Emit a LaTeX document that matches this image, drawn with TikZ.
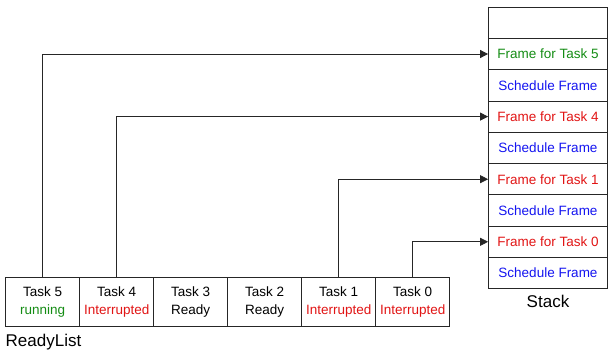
\documentclass[tikz,border=0pt]{standalone}
\usepackage{fontspec}
\setmainfont{Liberation Sans}
\usepackage{tikz}
\usetikzlibrary{arrows.meta, positioning}
\definecolor{rungreen}{RGB}{20,140,20}
\definecolor{intred}{RGB}{225,20,20}
\definecolor{schedblue}{RGB}{20,20,240}

\begin{document}
\begin{tikzpicture}[x=1pt, y=-1pt, >={Triangle[length=8pt,width=8pt]},
    every node/.style={font=\fontsize{13.5}{17.3}\selectfont},
    slot/.style={draw=black!85, line width=0.8pt, minimum width=119pt, minimum height=31.3pt, inner sep=0pt},
    task/.style={draw=black!85, line width=0.8pt, minimum width=74pt, minimum height=49.4pt, inner sep=0pt, align=center},
    caption/.style={inner sep=0pt, font=\fontsize{17}{20}\selectfont},
    link/.style={->, draw=black!85, line width=0.8pt}]
  \useasboundingbox (0,0) rectangle (608,354);
  % stack frames, top to bottom
  \node[slot] (top) at (548,22.6) {};
  \node[slot, text=rungreen] (f5) at (548,54) {Frame for Task 5};
  \node[slot, text=schedblue] (s5) at (548,85.3) {Schedule Frame};
  \node[slot, text=intred] (f4) at (548,116.6) {Frame for Task 4};
  \node[slot, text=schedblue] (s4) at (548,147.9) {Schedule Frame};
  \node[slot, text=intred] (f1) at (548,179.2) {Frame for Task 1};
  \node[slot, text=schedblue] (s1) at (548,210.5) {Schedule Frame};
  \node[slot, text=intred] (f0) at (548,241.8) {Frame for Task 0};
  \node[slot, text=schedblue] (s0) at (548,273.1) {Schedule Frame};
  \node[caption] (stack) at (548,301.5) {Stack};
  % ready list
  \node[task] (t5) at (42.7,302) {Task 5\\\textcolor{rungreen}{running}};
  \node[task] (t4) at (116.7,302) {Task 4\\\textcolor{intred}{Interrupted}};
  \node[task] (t3) at (190.7,302) {Task 3\\Ready};
  \node[task] (t2) at (264.7,302) {Task 2\\Ready};
  \node[task] (t1) at (338.7,302) {Task 1\\\textcolor{intred}{Interrupted}};
  \node[task] (t0) at (412.7,302) {Task 0\\\textcolor{intred}{Interrupted}};
  \node[caption, anchor=west] (ready) at (5.5,342.5) {ReadyList};
  % task -> frame pointers
  \draw[link] (t5.north) |- (f5.west);
  \draw[link] (t4.north) |- (f4.west);
  \draw[link] (t1.north) |- (f1.west);
  \draw[link] (t0.north) |- (f0.west);
\end{tikzpicture}
\end{document}
